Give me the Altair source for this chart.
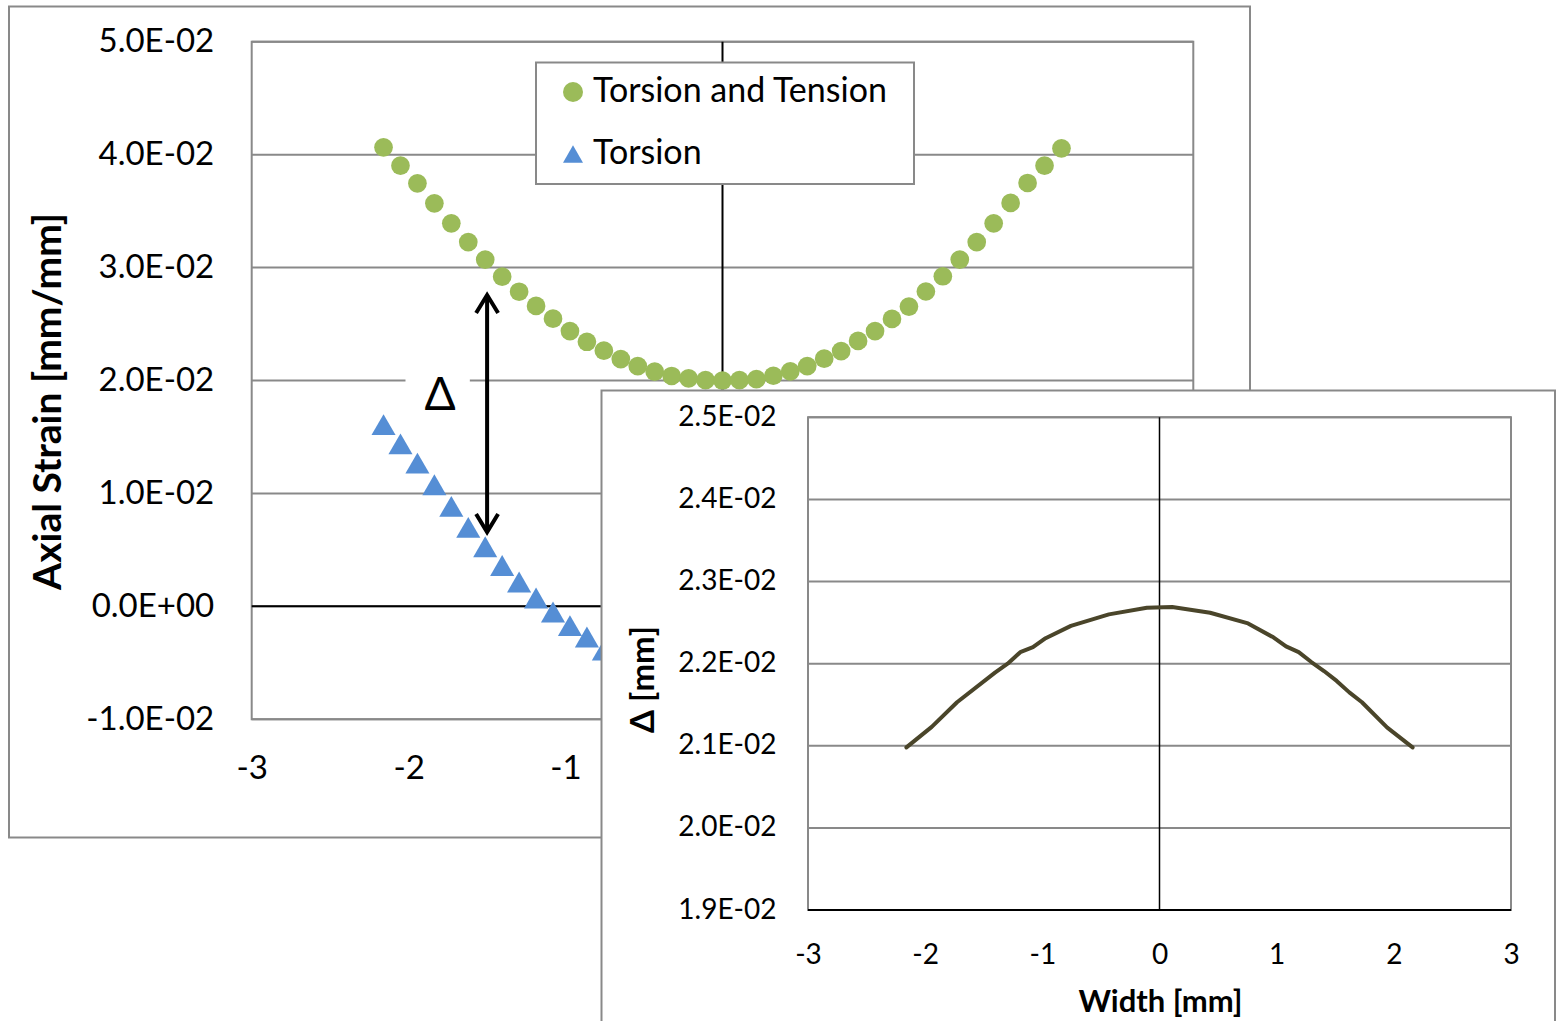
import altair as alt
import pandas as pd

# ---------------- data ----------------
width_mm = [-2.16, -2.052, -1.944, -1.836, -1.728, -1.62, -1.512, -1.404, -1.296, -1.188, -1.08,
            -0.972, -0.864, -0.756, -0.648, -0.54, -0.432, -0.324, -0.216, -0.108, 0.0,
            0.108, 0.216, 0.324, 0.432, 0.54, 0.648, 0.756, 0.864, 0.972, 1.08,
            1.188, 1.296, 1.404, 1.512, 1.62, 1.728, 1.836, 1.944, 2.052, 2.16]
torsion_tension = [0.04065, 0.03902, 0.03746, 0.03569, 0.03392, 0.03226, 0.03070, 0.02919, 0.02786, 0.02660, 0.02547,
                   0.02438, 0.02343, 0.02264, 0.02190, 0.02128, 0.02078, 0.02040, 0.02019, 0.02004, 0.01998,
                   0.02004, 0.02013, 0.02042, 0.02081, 0.02128, 0.02193, 0.02261, 0.02350, 0.02438, 0.02545,
                   0.02655, 0.02788, 0.02923, 0.03071, 0.03226, 0.03392, 0.03572, 0.03749, 0.03902, 0.04056]
torsion_width = [-2.16, -2.052, -1.944, -1.836, -1.728, -1.62, -1.512, -1.404, -1.296, -1.188, -1.08,
                 -0.972, -0.864, -0.756]
torsion = [0.01609, 0.01439, 0.01269, 0.01077, 0.00886, 0.00700, 0.00528, 0.00362, 0.00216, 0.00074,
           -0.00050, -0.00170, -0.00271, -0.00387]

delta_width = [-2.16, -1.944, -1.728, -1.404, -1.296, -1.188, -1.08, -0.972, -0.756, -0.432, -0.108,
               0.108, 0.432, 0.756, 0.972, 1.08, 1.188, 1.296, 1.404, 1.512, 1.62, 1.728, 1.944, 2.16]
delta_mm = [0.02098, 0.02123, 0.02153, 0.02189, 0.02200, 0.02214, 0.02220, 0.02231, 0.02246, 0.02260, 0.02268,
            0.02269, 0.02262, 0.02249, 0.02232, 0.02221, 0.02214, 0.02202, 0.02191, 0.02179, 0.02165, 0.02153,
            0.02122, 0.02098]

series_names = ["Torsion and Tension", "Torsion"]
series_colors = ["#9BBB59", "#558ED5"]
series_shapes = ["circle", "triangle-up"]

main_x_ticks = [-3, -2, -1]          # the labels 0..3 lie under the inset
main_y_ticks = [-0.01, 0.0, 0.01, 0.02, 0.03, 0.04, 0.05]
inset_x_ticks = [-3, -2, -1, 0, 1, 2, 3]
inset_y_ticks = [0.019, 0.020, 0.021, 0.022, 0.023, 0.024, 0.025]

main_y_title = "Axial Strain [mm/mm]"
inset_x_title = "Width [mm]"
inset_y_title = "Δ [mm]"
delta_label = "Δ"
arrow_x = [-1.5]
arrow_low = [0.00658]
arrow_high = [0.02757]

# ---------------- styling ----------------
FONT = "Lato"
GRID = "#898989"
LINE = "#4A452A"
SCI = ("replace(replace(upper(replace(format(datum.value, '.1e'), regexp('\u2212', 'g'), '-')),"
       " 'E-', 'E-0'), 'E+', 'E+0')")
INT = "replace(datum.label, regexp('\u2212', 'g'), '-')"
UP_HEAD = "M-1,1.64L0,0L1,1.64"
DOWN_HEAD = "M-1,-1.64L0,0L1,-1.64"

sx_main = alt.Scale(domain=[-3, 3], range=[251.7, 1193.3], nice=False, zero=False)
sy_main = alt.Scale(domain=[-0.01, 0.05], range=[719.3, 41.7], nice=False, zero=False)
sx_in = alt.Scale(domain=[-3, 3], range=[808, 1511], nice=False, zero=False)
sy_in = alt.Scale(domain=[0.019, 0.025], range=[910, 417.3], nice=False, zero=False)

# axes (the same object is given to every layer of a panel so that they merge)
AX_MX = alt.Axis(orient="bottom", offset=-301.7, values=main_x_ticks, labelExpr=INT, grid=False,
                 domain=False, ticks=False, tickSize=0, labelPadding=33, labelFont=FONT,
                 labelFontSize=33, labelColor="black", labelFlush=False, labelOverlap=False,
                 title=None, zindex=0)
AX_MY = alt.Axis(orient="left", offset=-251.7, values=main_y_ticks, labelExpr=SCI, grid=False,
                 domain=False, ticks=False, tickSize=0, labelPadding=38, labelFont=FONT,
                 labelFontSize=33, labelColor="black", labelFlush=False, labelOverlap=False,
                 title=main_y_title, titleFont=FONT, titleFontSize=39, titleFontWeight="bold",
                 titleColor="black", titleAngle=270, titleX=-203.7, titleY=401,
                 titleAlign="center", titleBaseline="middle", zindex=0)
AX_IX = alt.Axis(orient="bottom", offset=-111, values=inset_x_ticks, labelExpr=INT, grid=False,
                 domain=False, ticks=False, tickSize=0, labelPadding=31, labelFont=FONT,
                 labelFontSize=28, labelColor="black", labelFlush=False, labelOverlap=False,
                 title=inset_x_title, titleFont=FONT, titleFontSize=31, titleFontWeight="bold",
                 titleColor="black", titleX=1160, titleY=101, titleAlign="center",
                 titleBaseline="alphabetic", zindex=1)
AX_IY = alt.Axis(orient="left", offset=-808, values=inset_y_ticks, labelExpr=SCI, grid=False,
                 domain=False, ticks=False, tickSize=0, labelPadding=32, labelFont=FONT,
                 labelFontSize=28, labelColor="black", labelFlush=False, labelOverlap=False,
                 title=inset_y_title, titleFont=FONT, titleFontSize=33, titleFontWeight="bold",
                 titleColor="black", titleAngle=270, titleX=-165, titleY=679,
                 titleAlign="center", titleBaseline="middle", zindex=1)


def mx(f):
    return alt.X(f, scale=sx_main, axis=AX_MX)


def my(f):
    return alt.Y(f, scale=sy_main, axis=AX_MY)


def ix(f):
    return alt.X(f, scale=sx_in, axis=AX_IX)


def iy(f):
    return alt.Y(f, scale=sy_in, axis=AX_IY)


one = pd.DataFrame({"k": [0]})

# ---------------- main chart ----------------
main_frame = alt.Chart(one).mark_rect(fillOpacity=0, stroke=GRID, strokeWidth=2).encode(
    x=alt.value(9), x2=alt.value(1250), y=alt.value(6.5), y2=alt.value(837.5))

grid_df = pd.DataFrame({"v": main_y_ticks, "x0": -3, "x1": 3})
main_grid = alt.Chart(grid_df).mark_rule(color=GRID, strokeWidth=2).encode(
    x=mx("x0:Q"), x2="x1:Q", y=my("v:Q"))

border_df = pd.DataFrame({"x0": [-3], "x1": [3], "y0": [-0.01], "y1": [0.05], "z": [0]})
main_border = alt.Chart(border_df).mark_rect(fillOpacity=0, stroke=GRID, strokeWidth=2).encode(
    x=mx("x0:Q"), x2="x1:Q", y=my("y0:Q"), y2="y1:Q")
zero_h = alt.Chart(border_df).mark_rule(color="black", strokeWidth=2).encode(
    x=mx("x0:Q"), x2="x1:Q", y=my("z:Q"))
zero_v = alt.Chart(border_df).mark_rule(color="black", strokeWidth=2).encode(
    x=mx("z:Q"), y=my("y0:Q"), y2="y1:Q")

legend_box = alt.Chart(one).mark_rect(fill="white", stroke=GRID, strokeWidth=2).encode(
    x=alt.value(536), x2=alt.value(914), y=alt.value(62.5), y2=alt.value(184))

dbox_df = pd.DataFrame({"x0": [-2.02], "x1": [-1.61], "y0": [0.0175], "y1": [0.0215]})
delta_box = alt.Chart(dbox_df).mark_rect(color="white").encode(
    x=mx("x0:Q"), x2="x1:Q", y=my("y0:Q"), y2="y1:Q")

dtext_df = pd.DataFrame({"x": [-1.80], "y": [0.0186], "t": [delta_label]})
delta_text = alt.Chart(dtext_df).mark_text(font=FONT, fontSize=46, color="black",
                                           align="center", baseline="middle").encode(
    x=mx("x:Q"), y=my("y:Q"), text="t:N")

leg = alt.Legend(title=None, orient="none", legendX=556, legendY=75, labelFont=FONT, labelFontSize=34,
                 labelColor="black", labelLimit=800, symbolSize=400, labelOffset=3, rowPadding=28,
                 padding=0, symbolStrokeWidth=0)
color_scale = alt.Scale(domain=series_names, range=series_colors)
shape_scale = alt.Scale(domain=series_names, range=series_shapes)

tt_df = pd.DataFrame({"x": width_mm, "y": torsion_tension, "series": series_names[0]})
t_df = pd.DataFrame({"x": torsion_width, "y": torsion, "series": series_names[1]})

green_pts = alt.Chart(tt_df).mark_point(filled=True, size=350, opacity=1).encode(
    x=mx("x:Q"), y=my("y:Q"),
    color=alt.Color("series:N", scale=color_scale, legend=leg),
    shape=alt.Shape("series:N", scale=shape_scale, legend=leg))

blue_pts = alt.Chart(t_df).mark_point(filled=True, size=580, opacity=1).encode(
    x=mx("x:Q"), y=my("y:Q"),
    color=alt.Color("series:N", scale=color_scale, legend=leg),
    shape=alt.Shape("series:N", scale=shape_scale, legend=leg))

arrow_df = pd.DataFrame({"x": arrow_x, "lo": arrow_low, "hi": arrow_high})
arrow_rule = alt.Chart(arrow_df).mark_rule(color="black", strokeWidth=4).encode(
    x=mx("x:Q"), y=my("lo:Q"), y2="hi:Q")
arrow_up = alt.Chart(arrow_df).mark_point(shape=UP_HEAD, filled=False, size=484, stroke="black",
                                          strokeWidth=4, opacity=1).encode(
    x=mx("x:Q"), y=my("hi:Q"))
arrow_down = alt.Chart(arrow_df).mark_point(shape=DOWN_HEAD, filled=False, size=484, stroke="black",
                                            strokeWidth=4, opacity=1).encode(
    x=mx("x:Q"), y=my("lo:Q"))

main = alt.layer(main_frame, main_grid, main_border, zero_h, zero_v, legend_box, delta_box, delta_text,
                 green_pts, blue_pts, arrow_rule, arrow_up, arrow_down)

# ---------------- inset chart ----------------
inset_frame = alt.Chart(one).mark_rect(fill="white", stroke=GRID, strokeWidth=2).encode(
    x=alt.value(601.5), x2=alt.value(1555), y=alt.value(390.5), y2=alt.value(1040))

igrid_df = pd.DataFrame({"v": inset_y_ticks, "x0": -3, "x1": 3})
inset_grid = alt.Chart(igrid_df).mark_rule(color=GRID, strokeWidth=2).encode(
    x=ix("x0:Q"), x2="x1:Q", y=iy("v:Q"))

iborder_df = pd.DataFrame({"x0": [-3], "x1": [3], "y0": [0.019], "y1": [0.025], "z": [0]})
inset_border = alt.Chart(iborder_df).mark_rect(fillOpacity=0, stroke=GRID, strokeWidth=2).encode(
    x=ix("x0:Q"), x2="x1:Q", y=iy("y0:Q"), y2="y1:Q")
inset_bottom = alt.Chart(iborder_df).mark_rule(color="black", strokeWidth=2).encode(
    x=ix("x0:Q"), x2="x1:Q", y=iy("y0:Q"))
inset_zero = alt.Chart(iborder_df).mark_rule(color="black", strokeWidth=1.5).encode(
    x=ix("z:Q"), y=iy("y0:Q"), y2="y1:Q")

delta_df = pd.DataFrame({"x": delta_width, "y": delta_mm})
inset_line = alt.Chart(delta_df).mark_line(color=LINE, strokeWidth=4, strokeCap="round",
                                           strokeJoin="round").encode(
    x=ix("x:Q"), y=iy("y:Q"))

inset = alt.layer(inset_frame, inset_grid, inset_border, inset_bottom, inset_zero, inset_line)

chart = alt.layer(main, inset).resolve_scale(x="independent", y="independent").properties(
    width=1558, height=1021, autosize="none", padding=0, background="white"
).configure_view(strokeWidth=0)

chart.save("out.html", embed_options={"renderer": "svg", "actions": False})
